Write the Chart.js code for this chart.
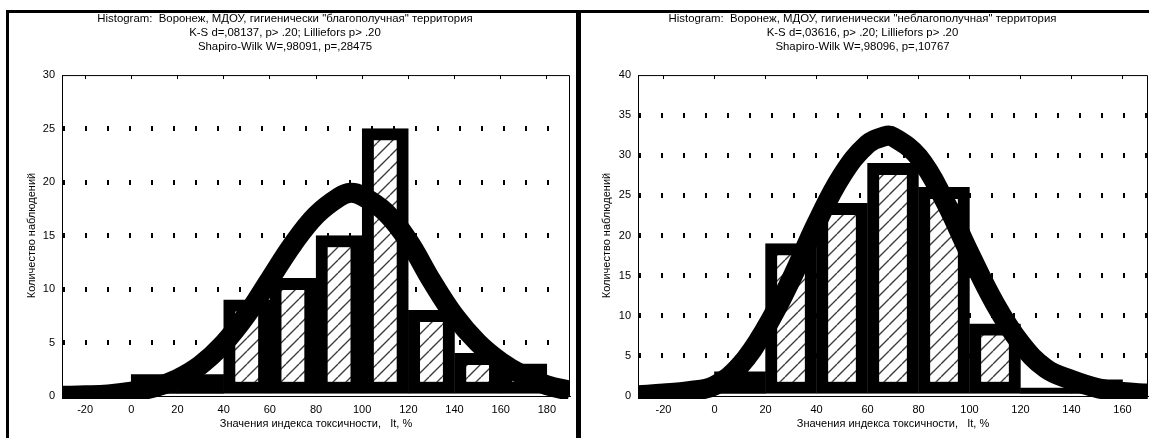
<!DOCTYPE html>
<html><head><meta charset="utf-8">
<script src="https://cdn.jsdelivr.net/npm/chart.js@4.4.1/dist/chart.umd.min.js"></script>
<style>
html,body{margin:0;padding:0;background:#fff;}
#wrap{position:relative;width:1149px;height:438px;overflow:hidden;background:#fff;}
canvas{position:absolute;top:0;}
#c1{left:0;} #c2{left:577px;}
.f{position:absolute;background:#000;}
</style></head><body>
<div id="wrap">
<canvas id="c1" width="577" height="438"></canvas>
<canvas id="c2" width="572" height="438"></canvas>
<div class="f" style="left:6px;top:10px;width:3px;height:428px"></div>
<div class="f" style="left:6px;top:10px;width:571px;height:3px"></div>
<div class="f" style="left:576px;top:10px;width:5px;height:428px"></div>
<div class="f" style="left:576px;top:10px;width:573px;height:3px"></div>
</div>
<script>
// ---- data: left panel ("благополучная") ----
const titleLeft = ['Histogram:  Воронеж, МДОУ, гигиенически "благополучная" территория',
                   'K-S d=,08137, p> .20; Lilliefors p> .20',
                   'Shapiro-Wilk W=,98091, p=,28475'];
const binCentersLeft = [10, 30, 50, 70, 90, 110, 130, 150, 170];
const countsLeft     = [2, 2, 9, 11, 15, 25, 8, 4, 3];
const curveXLeft = [-30,-20,-10,0,10,20,30,40,50,60,70,80,90,95,100,110,120,130,140,150,160,170,180,190];
const curveYLeft = [0.02,0.06,0.15,0.4,0.8,1.6,2.9,4.9,7.6,10.9,14.2,16.9,18.6,19.0,18.7,17.2,14.5,10.8,7.5,5.0,3.2,1.9,1.0,0.5];
const xTicksLeft = [-20,0,20,40,60,80,100,120,140,160,180];
const yTicksLeft = [0,5,10,15,20,25,30];

// ---- data: right panel ("неблагополучная") ----
const titleRight = ['Histogram:  Воронеж, МДОУ, гигиенически "неблагополучная" территория',
                    'K-S d=,03616, p> .20; Lilliefors p> .20',
                    'Shapiro-Wilk W=,98096, p=,10767'];
const binCentersRight = [10, 30, 50, 70, 90, 110, 130, 150];
const countsRight     = [3, 19, 24, 29, 26, 9, 1, 2];
const curveXRight = [-30,-20,-10,0,10,20,30,40,50,60,67,70,80,90,100,110,120,130,140,150,160,170];
const curveYRight = [0.1,0.3,0.6,1.3,3.8,8.4,14.5,21.5,27.5,31.4,32.4,32.3,29.8,24.5,17.8,11.5,6.6,3.4,2.0,1.0,0.5,0.3];
const xTicksRight = [-20,0,20,40,60,80,100,120,140,160];
const yTicksRight = [0,5,10,15,20,25,30,35,40];

const yTitle = 'Количество наблюдений';
const xTitle = 'Значения индекса токсичности,   It, %';

const FONT = '"Liberation Sans", Arial, sans-serif';
const BAR_BORDER = 12;

function hatchPattern(ctx){
  const s = 13, c = document.createElement('canvas');
  c.width = s; c.height = s;
  const g = c.getContext('2d');
  g.fillStyle = '#fff'; g.fillRect(0,0,s,s);
  g.strokeStyle = '#3c3c3c'; g.lineWidth = 1.4;
  g.beginPath();
  for (let k=-1;k<=1;k++){ g.moveTo(k*s, s); g.lineTo(k*s + s, 0); }
  g.stroke();
  return ctx.createPattern(c, 'repeat');
}

// a bar too short to show its hatched interior is drawn as a solid black block
function isSolid(c){
  const ys = c.chart.scales.y;
  if (!ys || !c.raw) return false;
  const h = ys.getPixelForValue(0) - ys.getPixelForValue(c.raw.y);
  return h <= 2*BAR_BORDER + 0.5;
}

const framePlugin = {
  id:'frame',
  afterDatasetsDraw(ch){
    const {ctx, chartArea:a} = ch;
    ctx.save(); ctx.strokeStyle='#000'; ctx.lineWidth=1;
    ctx.beginPath();
    ctx.moveTo(a.left, a.top+0.5); ctx.lineTo(a.right-0.5, a.top+0.5); ctx.lineTo(a.right-0.5, a.bottom);
    ctx.stroke(); ctx.restore();
  }
};

function makeChart(id, cfg){
  const canvas = document.getElementById(id);
  const ctx = canvas.getContext('2d');
  const font = {family: FONT, size: 11, weight: 'normal'};
  const tFont = {family: FONT, size: 11.4, weight: 'normal', lineHeight: 1.23};
  const yMax = cfg.yTicks[cfg.yTicks.length-1];
  const pattern = hatchPattern(ctx);
  return new Chart(ctx, {
    type: 'bar',
    data: {
      datasets: [
        {
          type: 'line',
          data: cfg.curveX.map((x,i)=>({x:x, y:cfg.curveY[i]})),
          borderColor: '#000', borderWidth: 20, pointRadius: 0, tension: 0.4,
          fill: false, order: 0, borderJoinStyle: 'round',
          clip: {left:0, top:0, right:0, bottom:3}
        },
        {
          type: 'bar',
          data: cfg.centers.map((x,i)=>({x:x, y:cfg.counts[i]})),
          backgroundColor: c => isSolid(c) ? '#000' : pattern,
          borderWidth: c => isSolid(c) ? 0 : BAR_BORDER,
          borderColor: '#000',
          borderSkipped: false, barPercentage: 1, categoryPercentage: 1, order: 1
        }
      ]
    },
    options: {
      responsive: false, animation: false, devicePixelRatio: 1,
      layout: {padding: {left: 0, right: cfg.padRight, top: 0, bottom: 0}},
      plugins: {
        legend: {display:false}, tooltip: {enabled:false},
        title: {display:true, text: cfg.title[0], color:'#000', font: tFont, padding:{top:12, bottom:0}},
        subtitle: {display:true, text: [cfg.title[1], cfg.title[2]], color:'#000', font: tFont, padding:{top:0, bottom:21}}
      },
      scales: {
        x: {
          type:'linear', min: cfg.xMin, max: cfg.xMax, offset:false,
          afterBuildTicks: s => { s.ticks = cfg.xTicks.map(v=>({value:v})); },
          ticks: {color:'#000', font: font, padding:7, maxRotation:0, autoSkip:false},
          grid: {display:true, offset:false, drawTicks:false, color:'#000', lineWidth:1},
          border: {display:true, color:'#000', width:1, dash:[4,2000]},
          title: {display:true, text: xTitle, color:'#000', font: font, padding:{top:0, bottom:7}},
          afterFit: s => { s.height = 42; }
        },
        y: {
          type:'linear', min: 0, max: yMax,
          afterBuildTicks: s => { s.ticks = cfg.yTicks.map(v=>({value:v})); },
          ticks: {color:'#000', font: font, padding:7},
          grid: {drawTicks:false, lineWidth:5,
                 color: c => (c.tick && (c.tick.value===0 || c.tick.value===yMax)) ? 'rgba(0,0,0,0)' : '#000'},
          border: {display:true, color:'#000', width:1, dash:[2,20]},
          title: {display:true, text: yTitle, color:'#000', font: font, padding:{top: cfg.yTitlePad, bottom:0}},
          afterFit: s => { s.width = cfg.yWidth; }
        }
      }
    },
    plugins: [framePlugin]
  });
}

makeChart('c1', {title:titleLeft, centers:binCentersLeft, counts:countsLeft, curveX:curveXLeft, curveY:curveYLeft,
  xTicks:xTicksLeft, yTicks:yTicksLeft, xMin:-30, xMax:190, padRight:7, yWidth:62, yTitlePad:25});
makeChart('c2', {title:titleRight, centers:binCentersRight, counts:countsRight, curveX:curveXRight, curveY:curveYRight,
  xTicks:xTicksRight, yTicks:yTicksRight, xMin:-30, xMax:170, padRight:1, yWidth:61, yTitlePad:23});
</script>
</body></html>
